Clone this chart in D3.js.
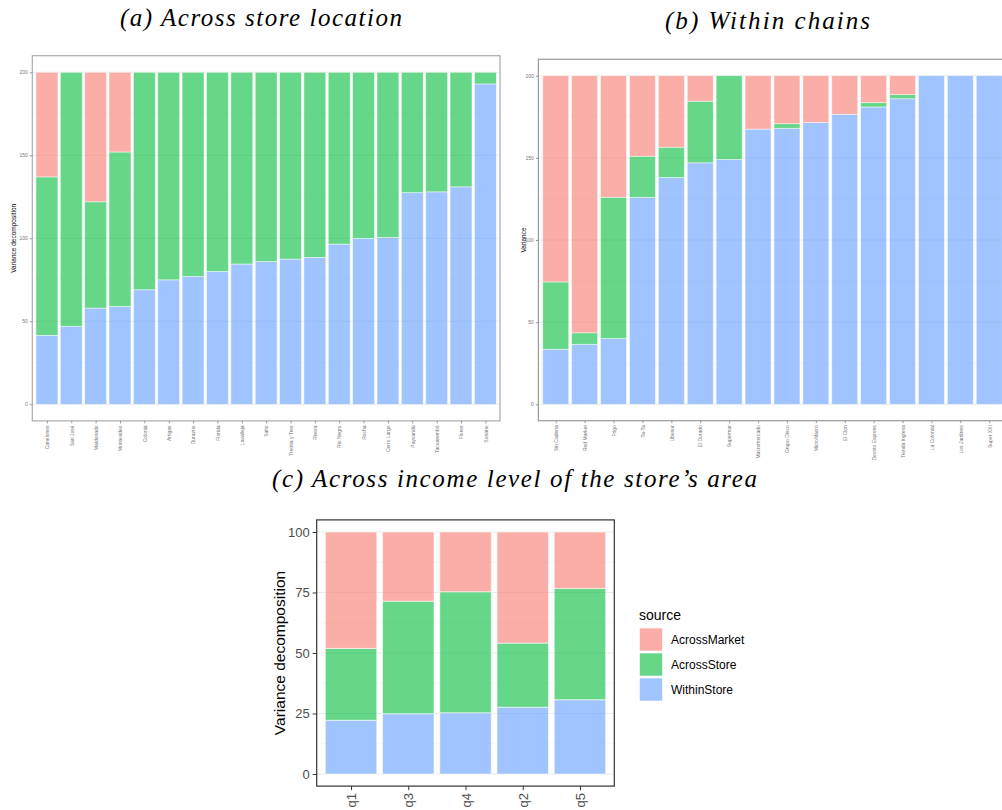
<!DOCTYPE html>
<html><head><meta charset="utf-8">
<script src="https://cdn.jsdelivr.net/npm/d3@7"></script>
<style>body{margin:0;background:#fff}svg{display:block}</style>
</head><body>
<svg id="chart" width="1002" height="810"></svg>
<script>
// ---------- data ----------
const sourceKeys = ["WithinStore", "AcrossStore", "AcrossMarket"];
const legendOrder = ["AcrossMarket", "AcrossStore", "WithinStore"];

const catsA = ["Canelones","San José","Maldonado","Montevideo","Colonia","Artigas","Durazno","Florida","Lavalleja","Salto","Treinta y Tres","Rivera","Rio Negro","Rocha","Cerro Largo","Paysandú","Tacuarembó","Flores","Soriano"];
const withinA = [41.5, 47, 58, 59, 69, 75, 77, 80, 84.5, 86, 87.5, 88.5, 96.5, 100, 100.5, 127.5, 128, 131, 193];
const storeA  = [95.5, 153, 64, 93, 131, 125, 123, 120, 115.5, 114, 112.5, 111.5, 103.5, 100, 99.5, 72.5, 72, 69, 7];
const marketA = [63, 0, 78, 48, 0, 0, 0, 0, 0, 0, 0, 0, 0, 0, 0, 0, 0, 0, 0];

const catsB = ["Sin Cadena","Red Market","Frigo","Ta-Ta","Ubesur","El Dorado","Supermar","Macromercado","Grupo Disco","MicroMacro","El Clon","Devoto Express","Tienda Inglesa","La Colonial","Los Jardines","Super XXI"];
const withinB = [33.5, 36.5, 40, 126, 138, 147, 149, 167.5, 168, 171.5, 176.5, 181, 186, 200, 200, 200];
const storeB  = [41, 7, 86, 25, 18.5, 37.5, 51, 0, 2.8, 0, 0, 2.6, 2.5, 0, 0, 0];
const marketB = [125.5, 156.5, 74, 49, 43.5, 15.5, 0, 32.5, 29.2, 28.5, 23.5, 16.4, 11.5, 0, 0, 0];

const catsC = ["q1","q3","q4","q2","q5"];
const withinC = [22.2, 24.9, 25.3, 27.6, 30.7];
const storeC  = [29.7, 46.5, 50.0, 26.5, 46.0];
const marketC = [48.1, 28.6, 24.7, 45.9, 23.3];

const ticksAB = [0, 50, 100, 150, 200];
const ticksC = [0, 25, 50, 75, 100];

const colors = {AcrossMarket: "#F8766D", AcrossStore: "#00BA38", WithinStore: "#619CFF"};

const svg = d3.select("#chart");

function drawPanel(o) {
  const n = o.cats.length;
  const rows = o.cats.map((c, i) => ({cat: c, idx: i + 1, WithinStore: o.within[i], AcrossStore: o.store[i], AcrossMarket: o.market[i]}));
  const stacked = d3.stack().keys(sourceKeys)(rows);
  const x = d3.scaleLinear().domain([0.4, n + 0.6]).range([o.left, o.right]);
  const y = d3.scaleLinear().domain([-0.05 * o.total, 1.05 * o.total]).range([o.bottom, o.top]);
  const g = svg.append("g");

  // grid
  const minor = o.ticks.slice(0, -1).map((t, i) => (t + o.ticks[i + 1]) / 2);
  g.selectAll(".minor").data(minor).join("line")
    .attr("x1", o.left).attr("x2", o.right).attr("y1", d => y(d)).attr("y2", d => y(d))
    .attr("stroke", "#F2F2F2").attr("stroke-width", 0.6);
  g.selectAll(".major").data(o.ticks).join("line")
    .attr("x1", o.left).attr("x2", o.right).attr("y1", d => y(d)).attr("y2", d => y(d))
    .attr("stroke", "#EBEBEB").attr("stroke-width", 1);

  // bars
  stacked.forEach(layer => {
    g.append("g").selectAll("rect").data(layer.filter(d => d[1] - d[0] > 0)).join("rect")
      .attr("x", d => x(d.data.idx - 0.45))
      .attr("width", d => x(d.data.idx + 0.45) - x(d.data.idx - 0.45))
      .attr("y", d => y(d[1]))
      .attr("height", d => y(d[0]) - y(d[1]))
      .attr("fill", colors[layer.key]).attr("fill-opacity", 0.6)
      .attr("stroke", "#fff").attr("stroke-opacity", 0.6).attr("stroke-width", o.barStroke);
  });

  // frame
  g.append("rect").attr("x", o.left).attr("y", o.top)
    .attr("width", o.right - o.left).attr("height", o.bottom - o.top)
    .attr("fill", "none").attr("stroke", o.frameColor).attr("stroke-width", o.frameWidth);

  // y axis
  const yAxis = d3.axisLeft(y).tickValues(o.ticks).tickSize(o.tickLen).tickPadding(o.tickPad);
  const ya = g.append("g").attr("transform", `translate(${o.left},0)`).call(yAxis);
  ya.select(".domain").remove();
  ya.selectAll(".tick line").attr("stroke", o.tickColor);
  ya.selectAll(".tick text").attr("font-family", "Liberation Sans, Arial, sans-serif")
    .attr("font-size", o.tickFont).attr("fill", o.tickTextColor);

  // x axis
  const xAxis = d3.axisBottom(x).tickValues(d3.range(1, n + 1)).tickFormat(i => o.cats[i - 1])
    .tickSize(o.tickLen).tickPadding(o.tickPad);
  const xa = g.append("g").attr("transform", `translate(0,${o.bottom})`).call(xAxis);
  xa.select(".domain").remove();
  xa.selectAll(".tick line").attr("stroke", o.tickColor);
  xa.selectAll(".tick text")
    .attr("font-family", "Liberation Sans, Arial, sans-serif")
    .attr("font-size", o.tickFont).attr("fill", o.tickTextColor)
    .attr("text-anchor", "end").attr("dy", "0.35em")
    .attr("transform", `translate(0,${o.tickLen + o.tickPad}) rotate(-90)`)
    .attr("x", 0).attr("y", 0);

  // y title
  svg.append("text").attr("transform", `translate(${o.ytitleX},${(o.top + o.bottom) / 2}) rotate(-90)`)
    .attr("text-anchor", "middle").attr("font-family", "Liberation Sans, Arial, sans-serif")
    .attr("font-size", o.titleFont).attr("fill", "#000").text(o.ytitle);
}

drawPanel({cats: catsA, within: withinA, store: storeA, market: marketA, total: 200, ticks: ticksAB,
  left: 32.3, right: 500, top: 55.7, bottom: 420.9, tickLen: 2.5, tickPad: 2, tickFont: 5,
  titleFont: 6.5, ytitle: "Variance decomposition", ytitleX: 16, frameColor: "#ABABAB", frameWidth: 1.2,
  tickColor: "#999", tickTextColor: "#777", barStroke: 0.8});

drawPanel({cats: catsB, within: withinB, store: storeB, market: marketB, total: 200, ticks: ticksAB,
  left: 538.4, right: 1006.6, top: 59.3, bottom: 420.7, tickLen: 2.5, tickPad: 2, tickFont: 5,
  titleFont: 6.5, ytitle: "Variance", ytitleX: 526, frameColor: "#9A9A9A", frameWidth: 1.2,
  tickColor: "#999", tickTextColor: "#777", barStroke: 0.8});

drawPanel({cats: catsC, within: withinC, store: storeC, market: marketC, total: 100, ticks: ticksC,
  left: 316.7, right: 614.3, top: 519.9, bottom: 786.1, tickLen: 4, tickPad: 3, tickFont: 13,
  titleFont: 15.5, ytitle: "Variance decomposition", ytitleX: 285, frameColor: "#333", frameWidth: 1.2,
  tickColor: "#333", tickTextColor: "#4D4D4D", barStroke: 1});

// legend
const lg = svg.append("g").attr("transform", "translate(639,0)");
lg.append("text").attr("x", 0).attr("y", 620).attr("font-family", "Liberation Sans, Arial, sans-serif")
  .attr("font-size", 14).attr("fill", "#000").text("source");
legendOrder.forEach((k, i) => {
  lg.append("rect").attr("x", 0.5).attr("y", 628 + i * 25).attr("width", 23).attr("height", 23)
    .attr("fill", colors[k]).attr("fill-opacity", 0.6).attr("stroke", "#fff").attr("stroke-opacity", 0.6);
  lg.append("text").attr("x", 32).attr("y", 640 + i * 25).attr("dy", "0.35em")
    .attr("font-family", "Liberation Sans, Arial, sans-serif").attr("font-size", 12).attr("fill", "#000").text(k);
});

// panel titles
const titles = [
  {t: "(a)  Across store location", x: 120, y: 26, w: 282},
  {t: "(b)  Within chains", x: 665, y: 29, w: 205},
  {t: "(c)  Across income level of the store\u2019s area", x: 272, y: 487, w: 485}
];
titles.forEach(d => {
  svg.append("text").attr("x", d.x).attr("y", d.y)
    .attr("font-family", "Liberation Serif, serif").attr("font-style", "italic").attr("font-size", 25)
    .attr("fill", "#000").attr("textLength", d.w).attr("lengthAdjust", "spacing").text(d.t);
});
</script>
</body></html>
